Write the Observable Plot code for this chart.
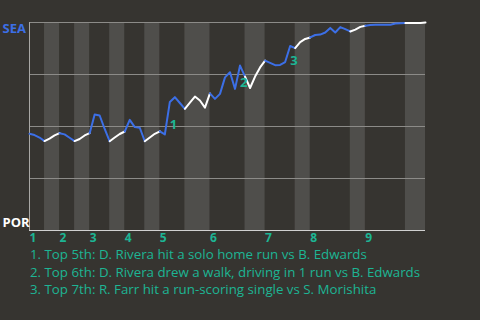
<!DOCTYPE html>
<html><head><meta charset="utf-8">
<script src="https://cdn.jsdelivr.net/npm/d3@7"></script>
<script src="https://cdn.jsdelivr.net/npm/@observablehq/plot@0.6"></script>
<style>
html,body{margin:0;padding:0;background:#363430;}
#chart{width:480px;height:320px;overflow:hidden;}
#chart svg{display:block;}
#caps{margin-top:1px;}
.cap{font-family:"Open Sans",sans-serif;color:#1db594;font-size:13.3px;line-height:17.7px;margin-left:30px;white-space:nowrap;}
</style></head><body><div id="chart"></div>
<script>
// Win probability for SEA after each plate appearance (index 0..79)
const winProb = [
  0.465,0.459,0.447,0.430,0.442,0.457,0.468,0.462,0.446,0.430,
  0.440,0.457,0.468,0.558,0.553,0.488,0.429,0.447,0.464,0.476,
  0.532,0.497,0.494,0.429,0.447,0.465,0.477,0.462,0.618,0.641,
  0.613,0.585,0.615,0.644,0.625,0.591,0.659,0.633,0.657,0.736,
  0.761,0.681,0.793,0.740,0.685,0.740,0.784,0.817,0.806,0.795,
  0.796,0.810,0.887,0.877,0.906,0.921,0.928,0.940,0.942,0.952,
  0.974,0.952,0.978,0.968,0.957,0.966,0.979,0.984,0.988,0.989,
  0.989,0.989,0.989,0.995,0.996,0.997,0.998,0.998,0.998,1.000
];
// Boundaries of half-innings (plate appearance index)
const halfBounds = [0,3,6,9,12,16,19,23,26,31,36,43,47,53,56,64,67,75,79];
const inningLabels = ["1","2","3","4","5","6","7","8","9"];
const teamTop = "SEA";
const teamBottom = "POR";
const noteNums = ["1","2","3"];
const noteX = [28,42,52];
const noteY = [0.506,0.710,0.814];
const captions = [
  "1. Top 5th: D. Rivera hit a solo home run vs B. Edwards",
  "2. Top 6th: D. Rivera drew a walk, driving in 1 run vs B. Edwards",
  "3. Top 7th: R. Farr hit a run-scoring single vs S. Morishita"
];

const halves = d3.range(halfBounds.length - 1).map(i => ({
  i, x1: halfBounds[i], x2: halfBounds[i+1], top: i % 2 === 0
}));
const segs = halves.flatMap(h => d3.range(h.x1, h.x2 + 1).map(k => ({x: k, y: winProb[k], half: h.i, top: h.top})));
const innings = inningLabels.map((t, i) => ({t, x: halfBounds[2*i]}));
const notes = noteNums.map((t, i) => ({t, x: noteX[i], y: noteY[i]}));

const plot = Plot.plot({
  width: 480, height: 245,
  marginLeft: 29, marginRight: 55, marginTop: 22, marginBottom: 15,
  style: {background: "#363430", fontFamily: "Open Sans, sans-serif", overflow: "visible"},
  x: {domain: [0, 79], axis: null},
  y: {domain: [0, 1], axis: null},
  marks: [
    Plot.rect(halves.filter(h => !h.top), {x1: "x1", x2: "x2", y1: 0, y2: 1, fill: "#4f4e4b"}),
    Plot.ruleY([0.25, 0.5, 0.75, 1], {stroke: "#8c8b88", strokeWidth: 1}),
    Plot.ruleX([0], {stroke: "#a9a8a5"}),
    Plot.ruleY([0], {stroke: "#d0d0d0"}),
    Plot.line(segs, {x: "x", y: "y", z: "half", stroke: d => d.top ? "#3c6fe6" : "#ffffff", strokeWidth: 2, curve: "linear"}),
    Plot.text(notes, {x: "x", y: "y", text: "t", fill: "#1db594", fontWeight: "bold", fontSize: 13, textAnchor: "start"}),
    Plot.text(innings, {x: "x", y: 0, text: "t", fill: "#1db594", fontWeight: "bold", fontSize: 12, textAnchor: "start", dy: 7.5}),
    Plot.text([teamTop], {frameAnchor: "left", y: [1], text: d => d, fill: "#3c6fe6", fontWeight: "bold", fontSize: 13, textAnchor: "start", lineAnchor: "top", dx: -27, dy: 1}),
    Plot.text([teamBottom], {frameAnchor: "left", y: [0], text: d => d, fill: "#ffffff", fontWeight: "bold", fontSize: 13, textAnchor: "start", lineAnchor: "bottom", dx: -27, dy: -4})
  ]
});
const chart = document.getElementById("chart");
chart.appendChild(plot);
const caps = document.createElement("div");
caps.id = "caps";
chart.appendChild(caps);
captions.forEach(c => {
  const d = document.createElement("div");
  d.className = "cap"; d.textContent = c; caps.appendChild(d);
});
</script></body></html>
